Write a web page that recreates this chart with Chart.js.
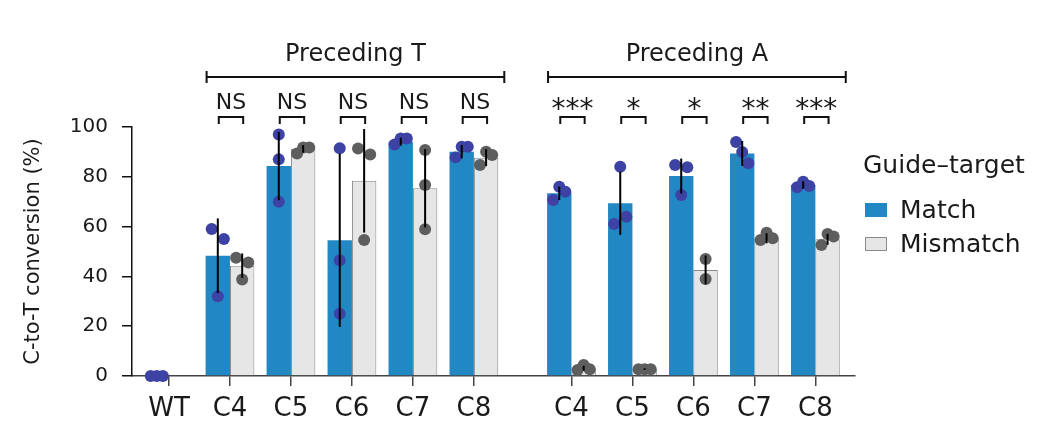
<!DOCTYPE html>
<html>
<head>
<meta charset="utf-8">
<script src="https://cdn.jsdelivr.net/npm/chart.js@4/dist/chart.umd.min.js"></script>
<style>
html,body{margin:0;padding:0;background:#fff;}
#wrap{width:1052px;height:442px;position:relative;}
</style>
</head>
<body>
<div id="wrap"><canvas id="c"></canvas></div>
<script>
// ---------------- data ----------------
const categories   = ['WT','C4','C5','C6','C7','C8','C4','C5','C6','C7','C8'];
const categoryGroup = ['WT','T','T','T','T','T','A','A','A','A','A'];
const matchMean    = [0, 48.3, 84.3, 54.5, 94.1, 90.1, 73.4, 69.4, 80.3, 89.4, 76.7];
const matchSD      = [0, 15.0, 13.7, 34.8, 1.6, 2.7, 2.7, 12.7, 7.0, 5.0, 1.5];
const mismatchMean = [null, 44.3, 91.2, 78.4, 75.4, 87.7, 3.1, 2.8, 42.6, 55.3, 54.9];
const mismatchSD   = [null, 4.9, 1.5, 20.8, 15.7, 3.4, 1.0, 0.3, 5.8, 2.0, 2.2];
const matchReps = [
  [0,0,0],[59,55,32],[97,87,70],[91.5,46.5,25],[93,95.4,95.4],[87.8,92.1,92.1],
  [70.7,76,74],[84,61,64],[84.7,83.8,72.7],[94,90,85.4],[75.8,78,76.3]
];
const mismatchReps = [
  [],[47.5,45.6,38.8],[89.4,91.8,91.8],[91.4,89,54.6],[90.8,76.7,58.9],[84.7,90.1,88.8],
  [2.4,4.4,2.7],[2.7,2.7,2.7],[47,39],[54.6,57.5,55.3],[52.6,57,56]
];
const significance = [null,'NS','NS','NS','NS','NS','***','*','*','**','***'];
const groupTitles  = {T:'Preceding T', A:'Preceding A'};
const seriesNames  = ['Match','Mismatch'];
const legendTitle  = 'Guide–target';
const yTitle       = 'C-to-T conversion (%)';
const yTicks       = [0,20,40,60,80,100];

// ---------------- layout / style ----------------
const GROUP_GAP = 0.6;            // extra spacing between the two groups (category units)
const xPos = categories.map((c,i)=> i + (categoryGroup[i]==='A' ? GROUP_GAP : 0));
const BAR_HALF = 0.2;             // grouped bar centre offset (category units)
const DOT_R = 6;
const SWARM_THR = 4.8;            // overlap threshold in value units
const SWARM_W = 0.1;              // horizontal spread in category units
const FONT = '"DejaVu Sans", "Noto Sans", sans-serif';
const TXT = '#1a1a1a';
const C_MATCH = '#2288c4', C_MIS = '#e6e6e6', C_MIS_B = '#8a8a8a';
const C_DOT_M = '#3c43a4', C_DOT_X = '#5e5e5e';
const PAD = {top:127, left:21, right:197, bottom:0};
const Y_AXIS_W = 111, X_AXIS_H = 66;

function swarm(values){
  const n = values.length, off = new Array(n).fill(0);
  if(!n) return off;
  const idx = values.map((v,i)=>i).sort((a,b)=>values[a]-values[b]);
  const clusters=[]; let cur=[idx[0]];
  for(let k=1;k<n;k++){
    if(values[idx[k]]-values[idx[k-1]] < SWARM_THR) cur.push(idx[k]);
    else { clusters.push(cur); cur=[idx[k]]; }
  }
  clusters.push(cur);
  clusters.forEach(cl=>{
    if(cl.length<2) return;
    cl.slice().sort((a,b)=>a-b).forEach((id,j,arr)=>{ off[id] = (-1 + 2*j/(arr.length-1))*SWARM_W; });
  });
  return off;
}
function dots(reps, side){
  const out=[];
  reps.forEach((vals,i)=>{
    const off = swarm(vals);
    vals.forEach((v,k)=> out.push({x: xPos[i] + side*BAR_HALF + off[k], y: v}));
  });
  return out;
}

// ---------------- plugins ----------------
const extras = {
  id:'extras',
  afterDatasetsDraw(chart){
    const {ctx, scales:{y}} = chart;
    const m0 = chart.getDatasetMeta(0).data, m1 = chart.getDatasetMeta(1).data;
    ctx.save();
    ctx.strokeStyle = '#000'; ctx.lineWidth = 2; ctx.lineCap='butt';
    const eb = (el, mean, sd) => {
      if(mean==null || !sd) return;
      ctx.beginPath();
      ctx.moveTo(el.x, y.getPixelForValue(mean - sd));
      ctx.lineTo(el.x, y.getPixelForValue(mean + sd));
      ctx.stroke();
    };
    categories.forEach((c,i)=>{ eb(m0[i], matchMean[i], matchSD[i]); eb(m1[i], mismatchMean[i], mismatchSD[i]); });
    ctx.restore();
  },
  afterDraw(chart){
    const {ctx, chartArea} = chart;
    const top = chartArea.top, right = chartArea.right;
    const m0 = chart.getDatasetMeta(0).data, m1 = chart.getDatasetMeta(1).data;
    ctx.save();
    ctx.strokeStyle = '#111'; ctx.fillStyle = TXT; ctx.lineWidth = 2;
    ctx.textAlign = 'center'; ctx.textBaseline = 'alphabetic';
    // significance brackets
    categories.forEach((c,i)=>{
      const s = significance[i]; if(!s) return;
      const x1 = m0[i].x + 1, x2 = m1[i].x + 1, yb = top - 10;
      ctx.beginPath(); ctx.moveTo(x1, yb+7); ctx.lineTo(x1, yb); ctx.lineTo(x2, yb); ctx.lineTo(x2, yb+7); ctx.stroke();
      if(s==='NS'){ ctx.font = '22px ' + FONT; ctx.fillText(s, (x1+x2)/2, top - 18); }
      else { ctx.font = '28px ' + FONT; ctx.fillText(s, (x1+x2)/2, top - 9); }
    });
    // group brackets
    Object.keys(groupTitles).forEach(g=>{
      const ids = categories.map((c,i)=>i).filter(i=>categoryGroup[i]===g);
      const a = m0[ids[0]], b = m1[ids[ids.length-1]];
      const xl = a.x - a.width/2 + 1, xr = b.x + b.width/2 + 6, yl = top - 50;
      ctx.beginPath();
      ctx.moveTo(xl, yl); ctx.lineTo(xr, yl);
      ctx.moveTo(xl, yl-6); ctx.lineTo(xl, yl+6);
      ctx.moveTo(xr, yl-6); ctx.lineTo(xr, yl+6);
      ctx.stroke();
      ctx.font = '24px ' + FONT;
      ctx.fillText(groupTitles[g], (xl+xr)/2, top - 66);
    });
    // legend
    const lx = right + 8;
    ctx.textAlign = 'left';
    ctx.font = '25px ' + FONT;
    ctx.fillText(legendTitle, lx, top + 46);
    const ds = chart.data.datasets;
    seriesNames.forEach((name,k)=>{
      const yc = top + 83 + k*34;
      ctx.fillStyle = ds[k].backgroundColor;
      ctx.fillRect(lx + 2, yc - 7, 22, 14);
      if(ds[k].borderWidth){ ctx.lineWidth = 1; ctx.strokeStyle = ds[k].borderColor; ctx.strokeRect(lx + 2.5, yc - 6.5, 21, 13); }
      ctx.fillStyle = TXT;
      ctx.textBaseline = 'middle';
      ctx.fillText(name, lx + 37, yc + 1);
      ctx.textBaseline = 'alphabetic';
    });
    ctx.restore();
  }
};

// ---------------- chart ----------------
new Chart(document.getElementById('c'), {
  data: {
    datasets: [
      { type:'bar', label: seriesNames[0], order:2,
        data: xPos.map((x,i)=>({x, y: matchMean[i]})),
        backgroundColor: C_MATCH, borderWidth: 0 },
      { type:'bar', label: seriesNames[1], order:2,
        data: xPos.map((x,i)=>({x, y: mismatchMean[i]})),
        backgroundColor: C_MIS, borderColor: C_MIS_B, borderWidth: 1 },
      { type:'scatter', label:'match reps', order:1, clip:false,
        data: dots(matchReps, -1), backgroundColor: C_DOT_M, pointRadius: DOT_R, borderWidth:0, pointHoverRadius: DOT_R },
      { type:'scatter', label:'mismatch reps', order:1, clip:false,
        data: dots(mismatchReps, 1), backgroundColor: C_DOT_X, pointRadius: DOT_R, borderWidth:0, pointHoverRadius: DOT_R }
    ]
  },
  options: {
    responsive:true, maintainAspectRatio:false, animation:false,
    layout:{ padding: PAD },
    datasets:{ bar:{ categoryPercentage:0.8, barPercentage:1.0, grouped:true } },
    plugins:{ tooltip:{enabled:false}, legend:{display:false} },
    scales:{
      x:{ type:'linear', min:-0.607, max:11.25, offset:false, bounds:'data',
          afterFit:(s)=>{ s.height = X_AXIS_H; },
          afterBuildTicks:(s)=>{ s.ticks = xPos.map(v=>({value:v})); },
          ticks:{ autoSkip:false, maxRotation:0, minRotation:0, padding:8, color:TXT,
                  font:{family:FONT, size:26},
                  callback:(v,i)=>categories[i] },
          grid:{ display:true, offset:false, drawOnChartArea:false, drawTicks:true, tickLength:10, color:'#444', lineWidth:1.5 },
          border:{ display:true, color:'#444', width:1.5 } },
      y:{ type:'linear', min:0, max:100,
          afterFit:(s)=>{ s.width = Y_AXIS_W; },
          afterBuildTicks:(s)=>{ s.ticks = yTicks.map(v=>({value:v})); },
          ticks:{ padding:14, color:TXT, font:{family:FONT, size:20} },
          grid:{ display:true, offset:false, drawOnChartArea:false, drawTicks:true, tickLength:10, color:'#111', lineWidth:1.5 },
          border:{ display:true, color:'#111', width:1.5 },
          title:{ display:true, text:yTitle, color:TXT, font:{family:FONT, size:21}, padding:{top:0,bottom:0} } }
    }
  },
  plugins:[extras]
});
</script>
</body>
</html>
